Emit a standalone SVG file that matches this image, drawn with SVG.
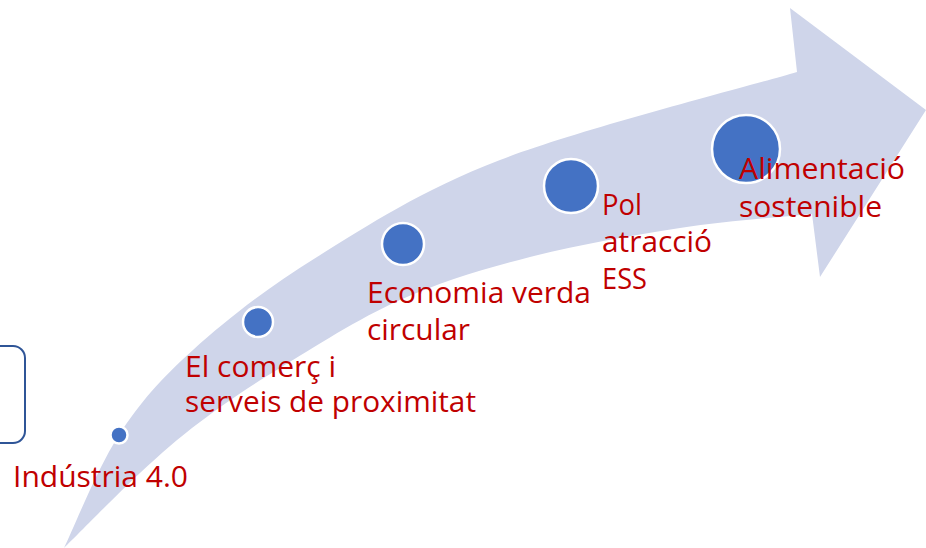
<svg xmlns="http://www.w3.org/2000/svg" width="926" height="548" viewBox="0 0 926 548">
<style>
.lbl{font-family:"Open Sans","Liberation Sans",sans-serif;font-size:30px;fill:#C00000}
.dot{fill:#4472C4;stroke:#FFFFFF;stroke-width:2.5}
</style>
<rect width="926" height="548" fill="#FFFFFF"/>
<g id="arrow">
<path fill="#CFD5EA" d="M64,548 C73.2,529.2 97.5,468 119,435 C140.5,402 160,379.7 193,350 C226,320.3 265.8,288.7 317,257 C368.2,225.3 420,190.8 500,160 C580,129.2 747.5,86.7 797,72 L790,8 L926,110 L820,277 L812,214 C790,216.3 727,220.8 680,228 C633,235.2 576.7,245 530,257 C483.3,269 441.7,281.5 400,300 C358.3,318.5 313.3,347.7 280,368 C246.7,388.3 223.3,404.5 200,422 C176.7,439.5 162.7,452 140,473 C117.3,494 76.7,535.5 64,548 Z"/>
</g>
<g id="frame">
<rect x="-20" y="346" width="45" height="97" rx="12" fill="none" stroke="#2F5597" stroke-width="2"/>
</g>
<g id="connectors"></g>
<g id="n1">
<circle class="dot" cx="119" cy="435" r="8.5"/>
<text class="lbl" x="13" y="487" textLength="175" lengthAdjust="spacingAndGlyphs">Indústria 4.0</text>
</g>
<g id="n2">
<circle class="dot" cx="258" cy="322" r="15"/>
<text class="lbl" x="185" y="377" textLength="151" lengthAdjust="spacingAndGlyphs">El comerç i</text>
<text class="lbl" x="185" y="412" textLength="291" lengthAdjust="spacingAndGlyphs">serveis de proximitat</text>
</g>
<g id="n3">
<circle class="dot" cx="403" cy="244" r="21"/>
<text class="lbl" x="367" y="303" textLength="224" lengthAdjust="spacingAndGlyphs">Economia verda</text>
<text class="lbl" x="367" y="340" textLength="103" lengthAdjust="spacingAndGlyphs">circular</text>
</g>
<g id="n4">
<circle class="dot" cx="571" cy="186" r="27"/>
<text class="lbl" x="602" y="215" textLength="40" lengthAdjust="spacingAndGlyphs">Pol</text>
<text class="lbl" x="602" y="252" textLength="110" lengthAdjust="spacingAndGlyphs">atracció</text>
<text class="lbl" x="602" y="289" textLength="45" lengthAdjust="spacingAndGlyphs">ESS</text>
</g>
<g id="n5">
<circle class="dot" cx="746" cy="149" r="34"/>
<text class="lbl" x="739" y="179" textLength="166" lengthAdjust="spacingAndGlyphs">Alimentació</text>
<text class="lbl" x="739" y="217" textLength="143" lengthAdjust="spacingAndGlyphs">sostenible</text>
</g>
</svg>
